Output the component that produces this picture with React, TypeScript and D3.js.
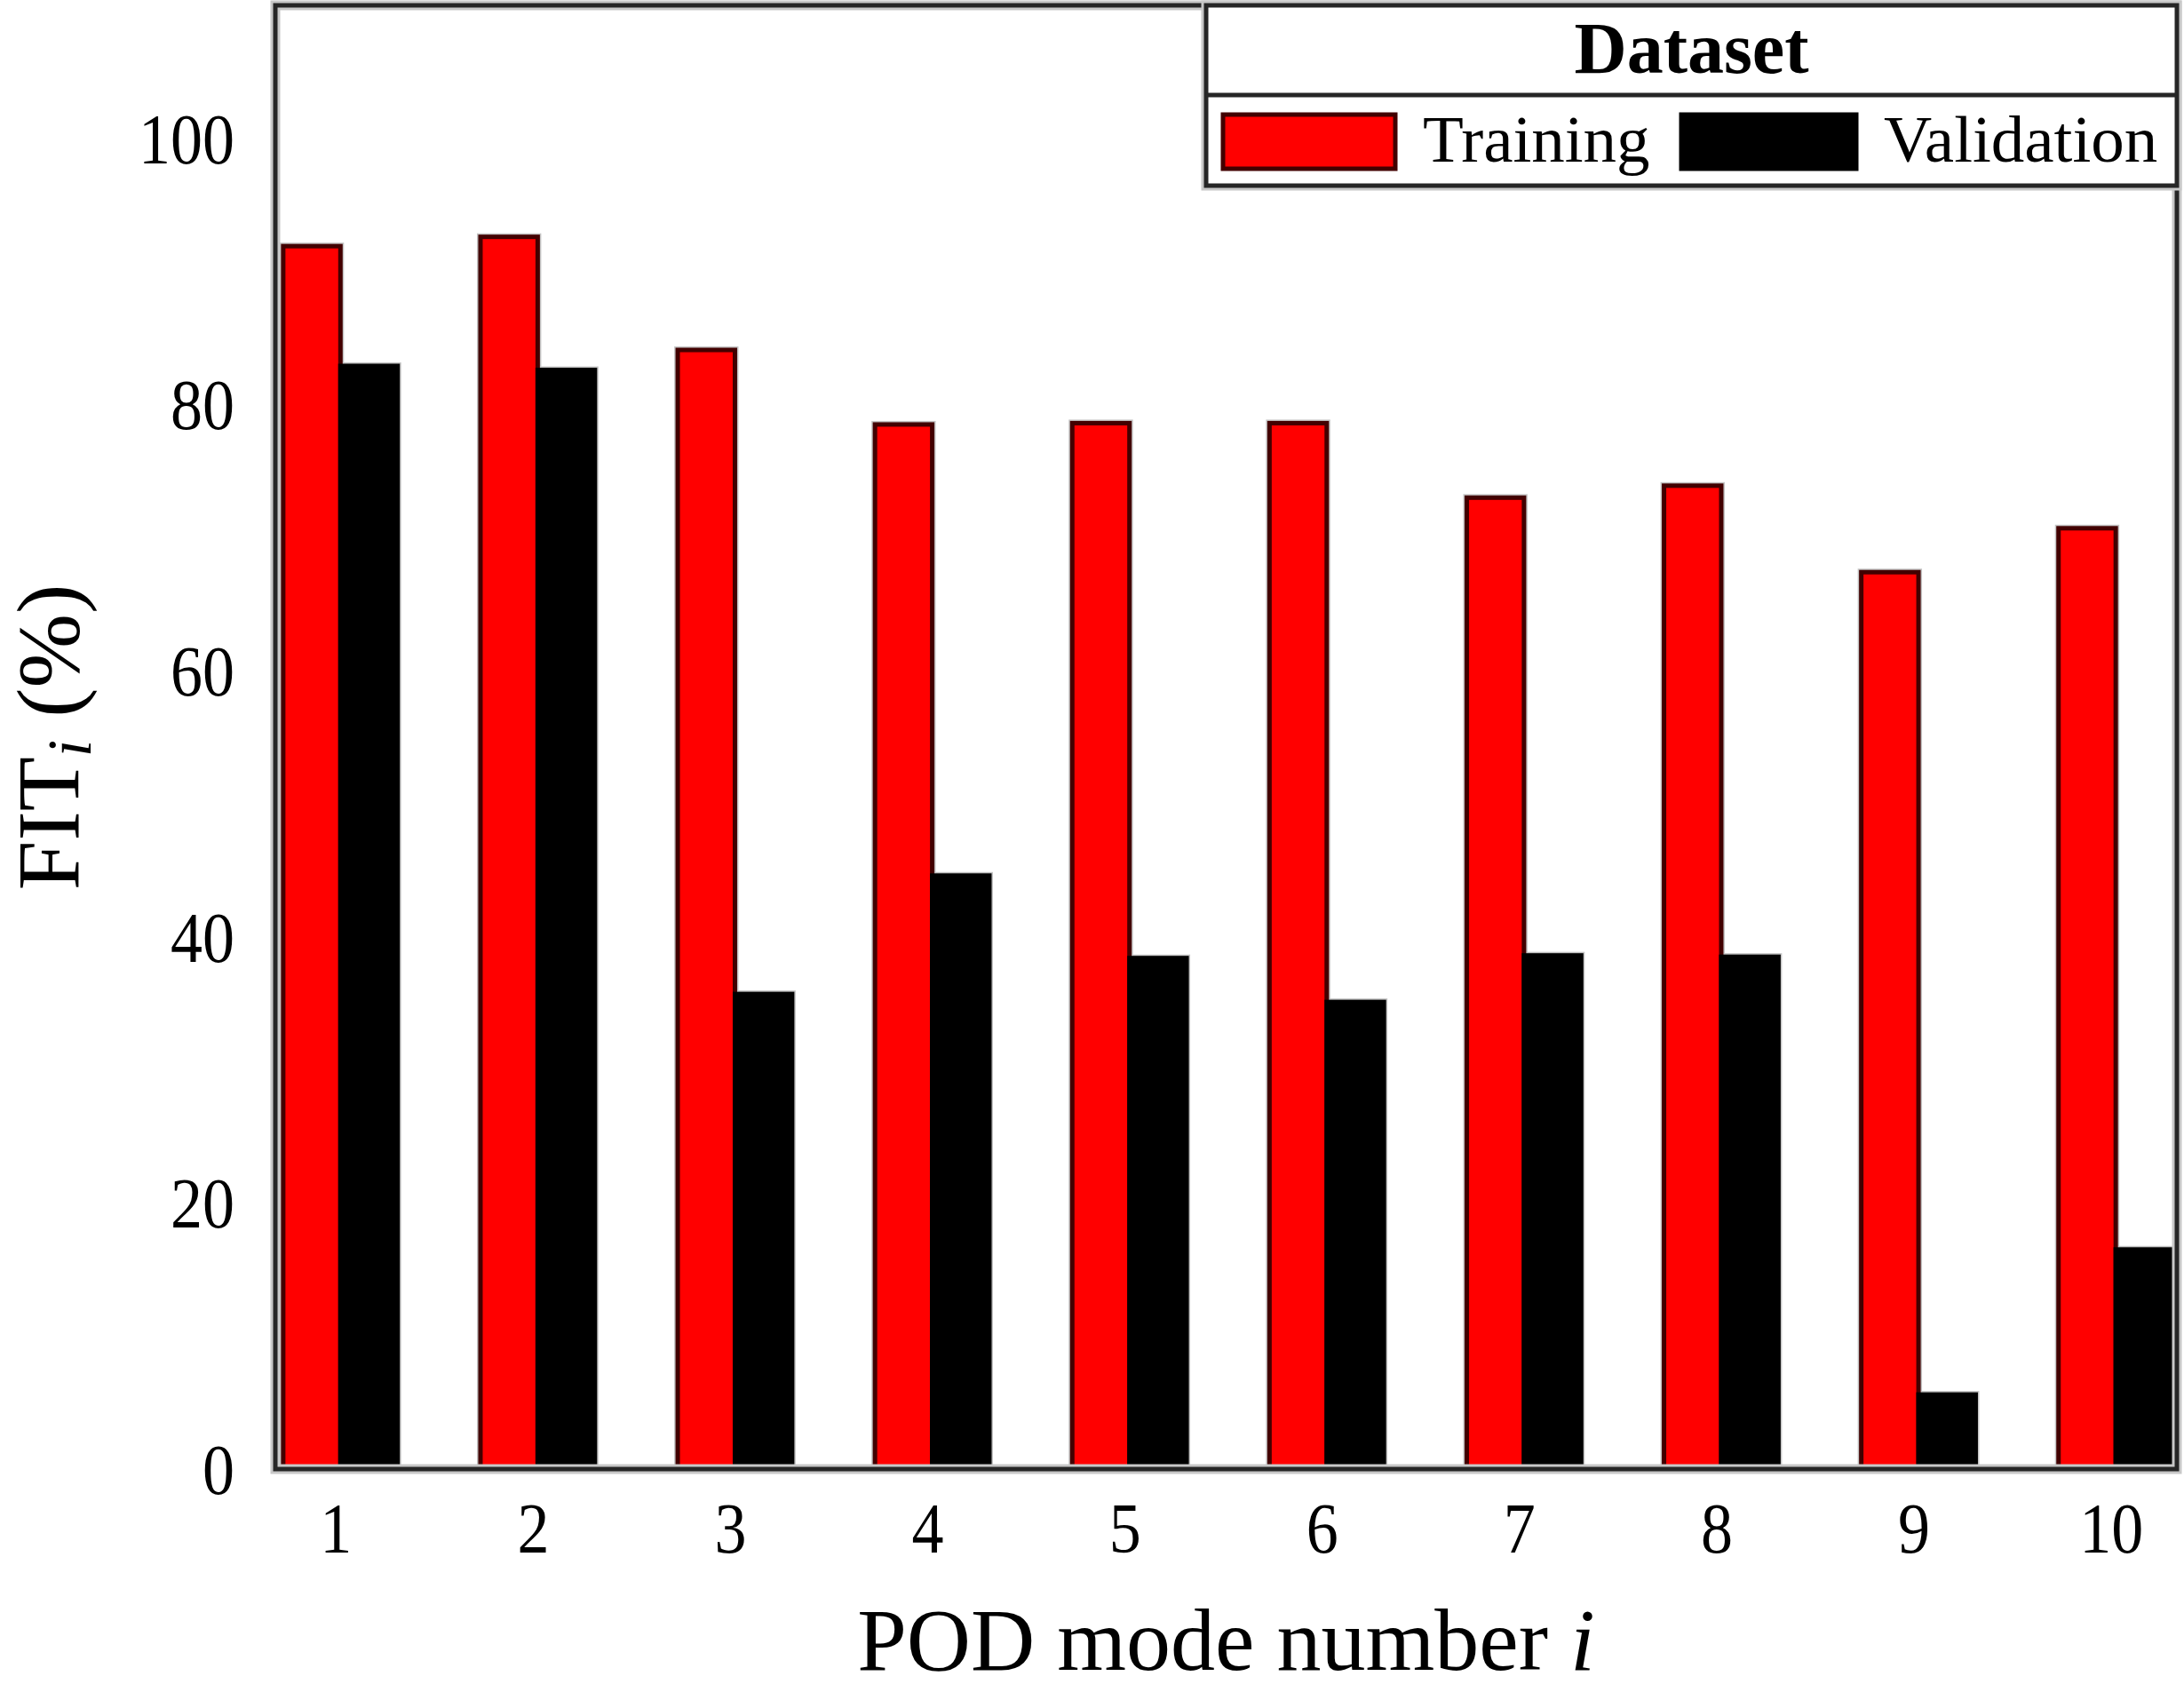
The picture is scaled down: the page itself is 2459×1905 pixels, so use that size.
import React from "react";
import * as d3 from "d3";

const modes = [1, 2, 3, 4, 5, 6, 7, 8, 9, 10];
const training = [91.9, 92.6, 84.1, 78.5, 78.6, 78.6, 73.0, 73.9, 67.4, 70.7];
const validation = [82.9, 82.6, 35.7, 44.6, 38.4, 35.1, 38.6, 38.5, 5.6, 16.5];
const yTicks = [0, 20, 40, 60, 80, 100];
const seriesNames = ["Training", "Validation"];
const legendTitle = "Dataset";

const W = 2459;
const H = 1905;
const L = 310, R = 2451, T = 6, B = 1654;
const FONT = "'Liberation Serif', 'Times New Roman', Times, serif";

export default function App() {
  const x = d3.scaleLinear().domain([0.67, 10.31]).range([L, R]);
  const y = d3.scaleLinear().domain([0, 110]).range([B, T]);
  const bw = 0.29;

  const bars: { x0: number; x1: number; v: number; fill: string; stroke: string }[] = [];
  modes.forEach((m, i) => {
    bars.push({ x0: x(m - bw), x1: x(m), v: training[i], fill: "#ff0000", stroke: "#420000" });
    bars.push({ x0: x(m), x1: x(m + bw), v: validation[i], fill: "#000000", stroke: "#000000" });
  });

  const lgL = 1358, lgT = T, lgB = 209, lgSep = 107;
  const sw = [
    { x0: 1377, x1: 1571, fill: "#ff0000", stroke: "#420000", tx: 1602, label: seriesNames[0] },
    { x0: 1893, x1: 2090, fill: "#000000", stroke: "#000000", tx: 2121, label: seriesNames[1] },
  ];

  return (
    <div style={{ position: "absolute", left: 0, top: 0 }}>
      <svg width={W} height={H} style={{ display: "block", background: "#fff" }}>
        <rect x={0} y={0} width={W} height={H} fill="#fff" />
        {/* bar halos */}
        {bars.map((b, i) => (
          <rect key={"h" + i} x={b.x0} y={y(b.v)} width={b.x1 - b.x0} height={B - y(b.v)}
            fill="none" stroke="#c4c4c4" strokeWidth={8} />
        ))}
        {bars.map((b, i) => (
          <rect key={"b" + i} x={b.x0} y={y(b.v)} width={b.x1 - b.x0} height={B - y(b.v)}
            fill={b.fill} stroke={b.stroke} strokeWidth={5} />
        ))}
        {/* frame */}
        <rect x={L} y={T} width={R - L} height={B - T} fill="none" stroke="#c8c8c8" strokeWidth={11} />
        <rect x={L} y={T} width={R - L} height={B - T} fill="none" stroke="#262626" strokeWidth={5} />

        {/* legend */}
        <rect x={lgL} y={lgT} width={R - lgL} height={lgB - lgT} fill="#fff" stroke="#c8c8c8" strokeWidth={11} />
        <line x1={lgL} x2={R} y1={lgSep} y2={lgSep} stroke="#c8c8c8" strokeWidth={11} />
        <rect x={lgL} y={lgT} width={R - lgL} height={lgB - lgT} fill="#fff" stroke="#262626" strokeWidth={5} />
        <line x1={lgL} x2={R} y1={lgSep} y2={lgSep} stroke="#262626" strokeWidth={5} />
        <text x={(lgL + R) / 2} y={82} textAnchor="middle" fontFamily={FONT} fontWeight="bold" fontSize={82} fill="#000">
          {legendTitle}
        </text>
        {sw.map((s, i) => (
          <g key={"lg" + i}>
            <rect x={s.x0} y={129} width={s.x1 - s.x0} height={61} fill={s.fill} stroke={s.stroke} strokeWidth={5} />
            <text x={s.tx} y={182} fontFamily={FONT} fontSize={75} fill="#000">{s.label}</text>
          </g>
        ))}

        {/* y ticks */}
        {yTicks.map((t) => (
          <text key={"yt" + t} transform={`translate(264, ${y(t)}) scale(0.9, 1)`} dy="0.35em" textAnchor="end"
            fontFamily={FONT} fontSize={80} fill="#000">
            {t}
          </text>
        ))}
        {/* x ticks */}
        {modes.map((m) => (
          <text key={"xt" + m} transform={`translate(${x(m) - 5}, 1748) scale(0.9, 1)`} textAnchor="middle"
            fontFamily={FONT} fontSize={80} fill="#000">
            {m}
          </text>
        ))}

        {/* axis titles */}
        <text x={(L + R) / 2} y={1880} textAnchor="middle" fontFamily={FONT} fontSize={100} fill="#000">
          POD mode number <tspan fontStyle="italic">i</tspan>
        </text>
        <text transform={`translate(88, ${(T + B) / 2}) rotate(-90)`} textAnchor="middle" fontFamily={FONT} fontSize={100} fill="#000">
          FIT<tspan fontStyle="italic" fontSize={70} dy={14}>i</tspan><tspan dy={-14}> (%)</tspan>
        </text>
      </svg>
    </div>
  );
}
